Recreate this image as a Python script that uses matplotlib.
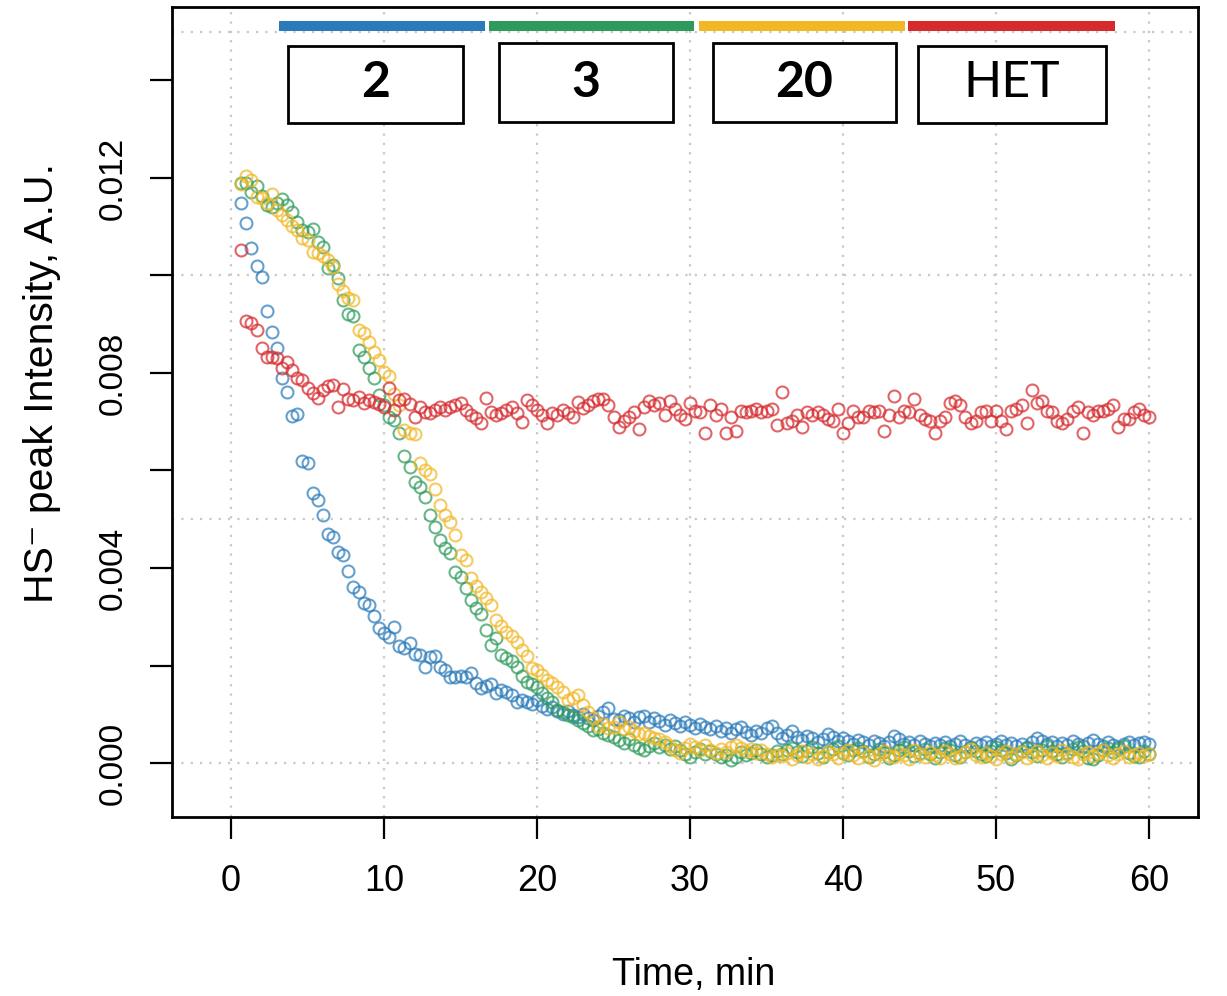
import numpy as np
import matplotlib
matplotlib.use("Agg")
import matplotlib.pyplot as plt
from matplotlib.patches import Rectangle
from matplotlib.ticker import FixedLocator, FixedFormatter

# ---------------- data (HS- peak intensity, units of 1e-5 A.U.) ----------------
# one reading every 20 s, first reading at 40 s
blue_e5 = [1149, 1108, 1056, 1019, 997, 927, 884, 851, 790, 761,
           712, 716, 619, 615, 554, 539, 509, 470, 464, 433,
           427, 394, 361, 351, 328, 324, 301, 277, 267, 258,
           279, 240, 236, 246, 224, 221, 197, 217, 219, 197,
           191, 176, 176, 178, 176, 185, 164, 154, 158, 162,
           144, 150, 146, 139, 125, 129, 125, 121, 129, 117,
           111, 115, 107, 100, 107, 98, 94, 100, 92, 88,
           96, 105, 113, 90, 88, 96, 92, 84, 94, 96,
           84, 92, 86, 78, 88, 82, 76, 84, 78, 72,
           80, 74, 70, 76, 66, 72, 62, 70, 74, 64,
           57, 66, 62, 72, 76, 62, 51, 57, 66, 53,
           47, 55, 51, 43, 49, 59, 53, 45, 51, 45,
           39, 47, 43, 37, 45, 41, 35, 43, 55, 49,
           39, 43, 37, 45, 39, 35, 41, 37, 43, 35,
           39, 45, 37, 33, 41, 37, 43, 35, 39, 45,
           37, 41, 35, 39, 33, 43, 51, 45, 39, 43,
           35, 41, 37, 45, 39, 35, 41, 47, 39, 35,
           43, 37, 33, 39, 43, 37, 41, 43, 39]

green_e5 = [1190, 1190, 1171, 1183, 1163, 1144, 1140, 1149, 1157, 1144,
            1130, 1110, 1093, 1089, 1095, 1069, 1058, 1015, 1021, 995,
            950, 921, 917, 847, 833, 810, 790, 755, 734, 710,
            704, 677, 630, 607, 576, 566, 546, 509, 484, 457,
            441, 431, 392, 381, 359, 334, 318, 306, 273, 242,
            256, 222, 215, 209, 197, 178, 166, 162, 156, 144,
            133, 125, 109, 105, 98, 94, 88, 82, 76, 68,
            70, 62, 57, 53, 47, 41, 49, 37, 31, 27,
            35, 41, 33, 37, 29, 35, 27, 18, 12, 23,
            29, 18, 25, 18, 12, 16, 6, 12, 23, 16,
            21, 27, 18, 12, 16, 25,
            18, 27, 31, 22, 14, 25, 33, 20, 12, 23,
            29, 35, 21, 16, 27, 31, 24, 13, 19, 28,
            22, 10, 17, 26, 33, 24, 15, 21, 29, 18,
            11, 23, 31, 26, 17, 12, 22, 30, 25, 19,
            14, 24, 33, 27, 20, 9, 16, 25, 31, 22,
            15, 27, 35, 24, 18, 12, 21, 29, 33, 25,
            10, 8, 17, 26, 31, 22, 28, 34, 20, 15,
            12, 24, 19]

yellow_e5 = [1188, 1204, 1196, 1161, 1159, 1149, 1167, 1134, 1124, 1114,
             1101, 1093, 1077, 1073, 1048, 1046, 1040, 1032, 1017, 982,
             968, 954, 950, 888, 882, 863, 843, 827, 802, 794,
             757, 734, 683, 677, 675, 615, 601, 593, 562, 529,
             509, 494, 468, 427, 416, 379, 363, 351, 338, 324,
             293, 281, 269, 260, 248, 232, 219, 195, 191, 180,
             170, 164, 156, 146, 129, 133, 139, 119, 105, 92,
             76, 80, 72, 74, 84, 70, 74, 66, 59, 62,
             55, 51, 49, 43, 35, 27, 21, 31, 39, 33,
             27, 37, 27, 21, 29, 23, 33, 37, 31, 25,
             29, 21, 27, 18, 12, 16,
             14, 21, 9, 17, 25, 12, 19, 8, 15, 23,
             18, 11, 20, 27, 16, 10, 22, 14, 7, 19,
             24, 15, 12, 21, 17, 9, 26, 19, 13, 22,
             16, 11, 24, 18, 10, 14, 23, 28, 17, 12,
             20, 15, 8, 19, 25, 13, 18, 22, 11, 16,
             24, 17, 10, 21, 15, 27, 19, 12, 9, 18,
             23, 14, 20, 26, 16, 11, 19, 24, 13, 17,
             21, 15, 18]

red_e5 = [1052, 907, 902, 888, 851, 833, 833, 831, 810, 822,
          806, 790, 786, 769, 759, 749, 765, 773, 775, 730,
          767, 747, 744, 751, 738, 744, 740, 736, 730, 769,
          724, 744, 747, 736, 710, 730, 720, 718, 724, 730,
          724, 730, 734, 738, 724, 714, 708, 697, 749, 720,
          714, 718, 724, 730, 718, 699, 744, 734, 724, 714,
          697, 718, 714, 724, 718, 710, 740, 728, 734,
          743, 747, 747, 735, 710, 690, 702, 710, 719, 686, 731,
          743, 735, 739, 714, 743, 727, 714, 706, 739, 723, 719,
          676, 735, 714, 727, 676, 710, 682, 723, 719, 723, 727,
          719, 723, 727, 694, 762, 698, 702, 714, 690, 719, 714,
          719, 714, 706, 702, 727, 677, 698, 723, 710, 710, 723,
          719, 723, 682, 714, 753, 710, 723, 719, 747, 714, 706,
          702, 676, 702, 710, 739, 743, 735, 710, 698, 702, 719,
          723, 702, 723, 702, 686, 723, 727, 735, 698, 766, 739,
          743, 723, 719, 702, 698, 706, 723, 731, 677, 719, 714,
          723, 723, 727, 735, 690, 706, 706, 719, 727, 714, 710]

series_labels = ["2", "3", "20", "HET"]
series_values = [blue_e5, green_e5, yellow_e5, red_e5]
series_colors = ["#2b7bba", "#2e9b5c", "#f2b824", "#d62a2d"]

x_ticks = [0, 10, 20, 30, 40, 50, 60]
y_ticks = [0.000, 0.002, 0.004, 0.006, 0.008, 0.010, 0.012, 0.014]
y_ticklabels = ["0.000", "", "0.004", "", "0.008", "", "0.012", ""]
x_grid = [0, 10, 20, 30, 40, 50, 60]
y_grid = [0.000, 0.005, 0.010, 0.015]

# ---------------- figure ----------------
W, H = 1227, 996
fig = plt.figure(figsize=(W / 100, H / 100), dpi=100)
plt.rcParams['font.family'] = ['Liberation Sans', 'DejaVu Sans']


def fx(px):
    return px / W


def fy(py):
    return 1 - py / H


ax = fig.add_axes([fx(172), fy(817), fx(1198) - fx(172), fy(7) - fy(817)])

# scale from tick positions: x 0 -> 231 px, 60 -> 1149 px ; y 0 -> 763 px, 0.012 -> 178 px
xs = (1149 - 231) / 60.0
ys = (763 - 178) / 0.012
ax.set_xlim((172 - 231) / xs, (1198 - 231) / xs)
ax.set_ylim(-(817 - 763) / ys, (763 - 7) / ys)

grid_kw = dict(color="#c8c8c8", lw=1.6, ls=(0, (1, 3.2)), zorder=0)
for gx in x_grid:
    ax.axvline(gx, **grid_kw)
for gy in y_grid:
    ax.axhline(gy, **grid_kw)

for vals, col in zip(series_values, series_colors):
    v = np.asarray(vals, dtype=float) * 1e-5
    t = (np.arange(len(v)) + 2) / 3.0
    ax.plot(t, v, ls="none", marker="o", ms=8.6, mfc="none", mec=col,
            mew=1.5, alpha=0.72, zorder=3)

for s in ax.spines.values():
    s.set_linewidth(2.0)

ax.xaxis.set_major_locator(FixedLocator(x_ticks))
ax.yaxis.set_major_locator(FixedLocator(y_ticks))
ax.yaxis.set_major_formatter(FixedFormatter(y_ticklabels))
ax.tick_params(axis="both", direction="out", length=16, width=1.6, color="black")
ax.tick_params(axis="x", labelsize=26, pad=18)
ax.tick_params(axis="y", labelsize=24, pad=15)
for lab in ax.get_yticklabels():
    lab.set_rotation(90)
    lab.set_va("center")

fig.text(fx(694), fy(975), "Time, min", fontsize=27, ha="center", va="center")
fig.text(fx(42), fy(383), "HS\u207b peak Intensity, A.U.", fontsize=29.5,
         ha="center", va="center", rotation=90)

# ---------------- sample key: colour bars + labelled boxes ----------------
bars_px = [(279, 485), (489, 694), (699, 905), (908, 1115)]
boxes_px = [(288, 46, 463, 123), (499, 43, 673, 122), (713, 43, 896, 122), (918, 46, 1106, 123)]
label_weight = ["bold", "bold", "bold", "normal"]
for (b0, b1), (x0, y0, x1, y1), lab, col, wt in zip(bars_px, boxes_px, series_labels,
                                                     series_colors, label_weight):
    fig.patches.append(Rectangle((fx(b0), fy(31.5)), fx(b1) - fx(b0), fy(21) - fy(31.5),
                                 transform=fig.transFigure, facecolor=col,
                                 edgecolor="none", zorder=5))
    fig.patches.append(Rectangle((fx(x0), fy(y1)), fx(x1) - fx(x0), fy(y0) - fy(y1),
                                 transform=fig.transFigure, facecolor="white",
                                 edgecolor="black", lw=2.0, zorder=5))
    fig.text((fx(x0) + fx(x1)) / 2, fy(97), lab, fontsize=36,
             fontweight=wt, family=["Lato", "DejaVu Sans"], ha="center",
             va="baseline", zorder=6)

fig.savefig("out.png", dpi=100)
